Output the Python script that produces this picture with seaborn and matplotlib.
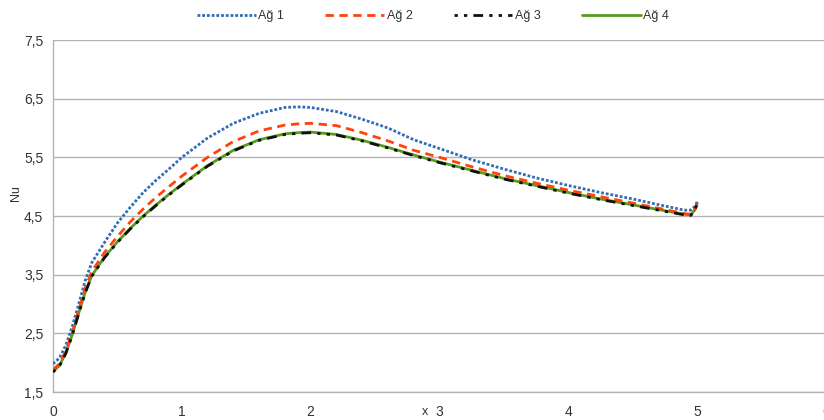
import matplotlib
matplotlib.use("Agg")
import matplotlib.pyplot as plt
import seaborn as sns
import pandas as pd

x_vals = [0, 0.05, 0.1, 0.15, 0.2, 0.25, 0.3, 0.4, 0.5, 0.6, 0.7, 0.8, 0.9, 1.0,
          1.2, 1.4, 1.6, 1.8, 1.9, 2.0, 2.2, 2.4, 2.6, 2.8, 3.0, 3.25, 3.5, 3.75,
          4.0, 4.25, 4.5, 4.75, 4.9, 4.95, 4.98, 5.0]

ag1 = [1.98, 2.08, 2.30, 2.62, 3.00, 3.40, 3.70, 4.05, 4.38, 4.65, 4.90, 5.11, 5.30, 5.50,
       5.83, 6.08, 6.25, 6.35, 6.36, 6.35, 6.28, 6.15, 6.00, 5.80, 5.65, 5.46, 5.30, 5.15,
       5.02, 4.90, 4.79, 4.67, 4.60, 4.60, 4.66, 4.74]
ag2 = [1.88, 1.98, 2.20, 2.52, 2.90, 3.27, 3.55, 3.88, 4.15, 4.40, 4.62, 4.82, 5.00, 5.18,
       5.50, 5.77, 5.95, 6.05, 6.07, 6.08, 6.04, 5.92, 5.78, 5.62, 5.50, 5.34, 5.19, 5.06,
       4.94, 4.83, 4.72, 4.61, 4.54, 4.53, 4.60, 4.70]
ag3 = [1.84, 1.94, 2.16, 2.47, 2.84, 3.19, 3.47, 3.79, 4.05, 4.28, 4.49, 4.68, 4.86, 5.03,
       5.35, 5.61, 5.79, 5.89, 5.91, 5.92, 5.88, 5.78, 5.66, 5.53, 5.41, 5.27, 5.13, 5.01,
       4.89, 4.78, 4.68, 4.58, 4.52, 4.51, 4.59, 4.71]
ag4 = [1.85, 1.95, 2.17, 2.48, 2.85, 3.20, 3.48, 3.80, 4.06, 4.29, 4.50, 4.69, 4.87, 5.04,
       5.36, 5.62, 5.80, 5.90, 5.92, 5.93, 5.89, 5.79, 5.67, 5.54, 5.42, 5.28, 5.14, 5.02,
       4.90, 4.79, 4.69, 4.59, 4.53, 4.52, 4.60, 4.72]

series_names = ["Ağ 1", "Ağ 2", "Ağ 3", "Ağ 4"]
y_ticks = [1.5, 2.5, 3.5, 4.5, 5.5, 6.5, 7.5]
y_tick_labels = ["1,5", "2,5", "3,5", "4,5", "5,5", "6,5", "7,5"]
x_ticks = [0, 1, 2, 3, 4, 5, 6]
x_tick_labels = ["0", "1", "2", "3", "4", "5", "6"]

sns.set_theme(style="white")
plt.rcParams["font.family"] = ["Liberation Sans", "DejaVu Sans"]

W, H = 824, 420
fig = plt.figure(figsize=(W / 100, H / 100), dpi=100)
ax = fig.add_axes([53 / W, 1 - 392 / H, (826 - 53) / W, (392 - 40) / H])

styles = {
    "Ağ 1": dict(color="#2f6db5", dashes=(1.0, 0.7), z=3),
    "Ağ 2": dict(color="#ff420e", dashes=(3.0, 2.0), z=3),
    "Ağ 4": dict(color="#579d1c", dashes=None, z=2),
    "Ağ 3": dict(color="#111111", dashes=(1.2, 2.2, 1.2, 2.2, 3.5, 2.2), z=4),
}
data = {"Ağ 1": ag1, "Ağ 2": ag2, "Ağ 3": ag3, "Ağ 4": ag4}

handles = {}
for name in ["Ağ 4", "Ağ 1", "Ağ 2", "Ağ 3"]:
    df = pd.DataFrame({"x": x_vals, "y": data[name]})
    st = styles[name]
    sns.lineplot(data=df, x="x", y="y", ax=ax, color=st["color"], linewidth=2.0,
                 label=name, zorder=st["z"], legend=False)
    ln = ax.lines[-1]
    if st["dashes"] is not None:
        ln.set_dashes(st["dashes"])
    handles[name] = ln

ax.set_xlim(0, 6)
ax.set_ylim(1.5, 7.5)
ax.set_yticks(y_ticks)
ax.set_yticklabels(y_tick_labels)
ax.set_xticks(x_ticks)
ax.set_xticklabels(x_tick_labels)
ax.set_xlabel("")
ax.set_ylabel("")

grid_c = "#b3b3b3"
ax.yaxis.grid(True, color=grid_c, linewidth=1.0)
ax.xaxis.grid(False)
ax.set_axisbelow(True)
for s in ["top", "right"]:
    ax.spines[s].set_visible(False)
for s in ["left", "bottom"]:
    ax.spines[s].set_color(grid_c)
    ax.spines[s].set_linewidth(1.0)
ax.tick_params(axis="both", which="major", direction="out", length=4, width=1,
               color=grid_c, labelsize=10, labelcolor="#333333", pad=3)
ax.tick_params(axis="x", pad=5)

fig.text(425 / W, 1 - 412 / H, "x", ha="center", va="center", fontsize=9, color="#333333")
fig.text(16 / W, 1 - 193 / H, "Nu", ha="center", va="center", rotation=90,
         fontsize=9, color="#333333")

fig.legend([handles[n] for n in series_names], series_names, loc="center",
           bbox_to_anchor=(433 / W, 1 - 16 / H), ncol=4, frameon=False,
           fontsize=9, handlelength=4.7, handletextpad=0.2, columnspacing=3.3,
           labelcolor="#333333")

fig.savefig("out.png", dpi=100)
